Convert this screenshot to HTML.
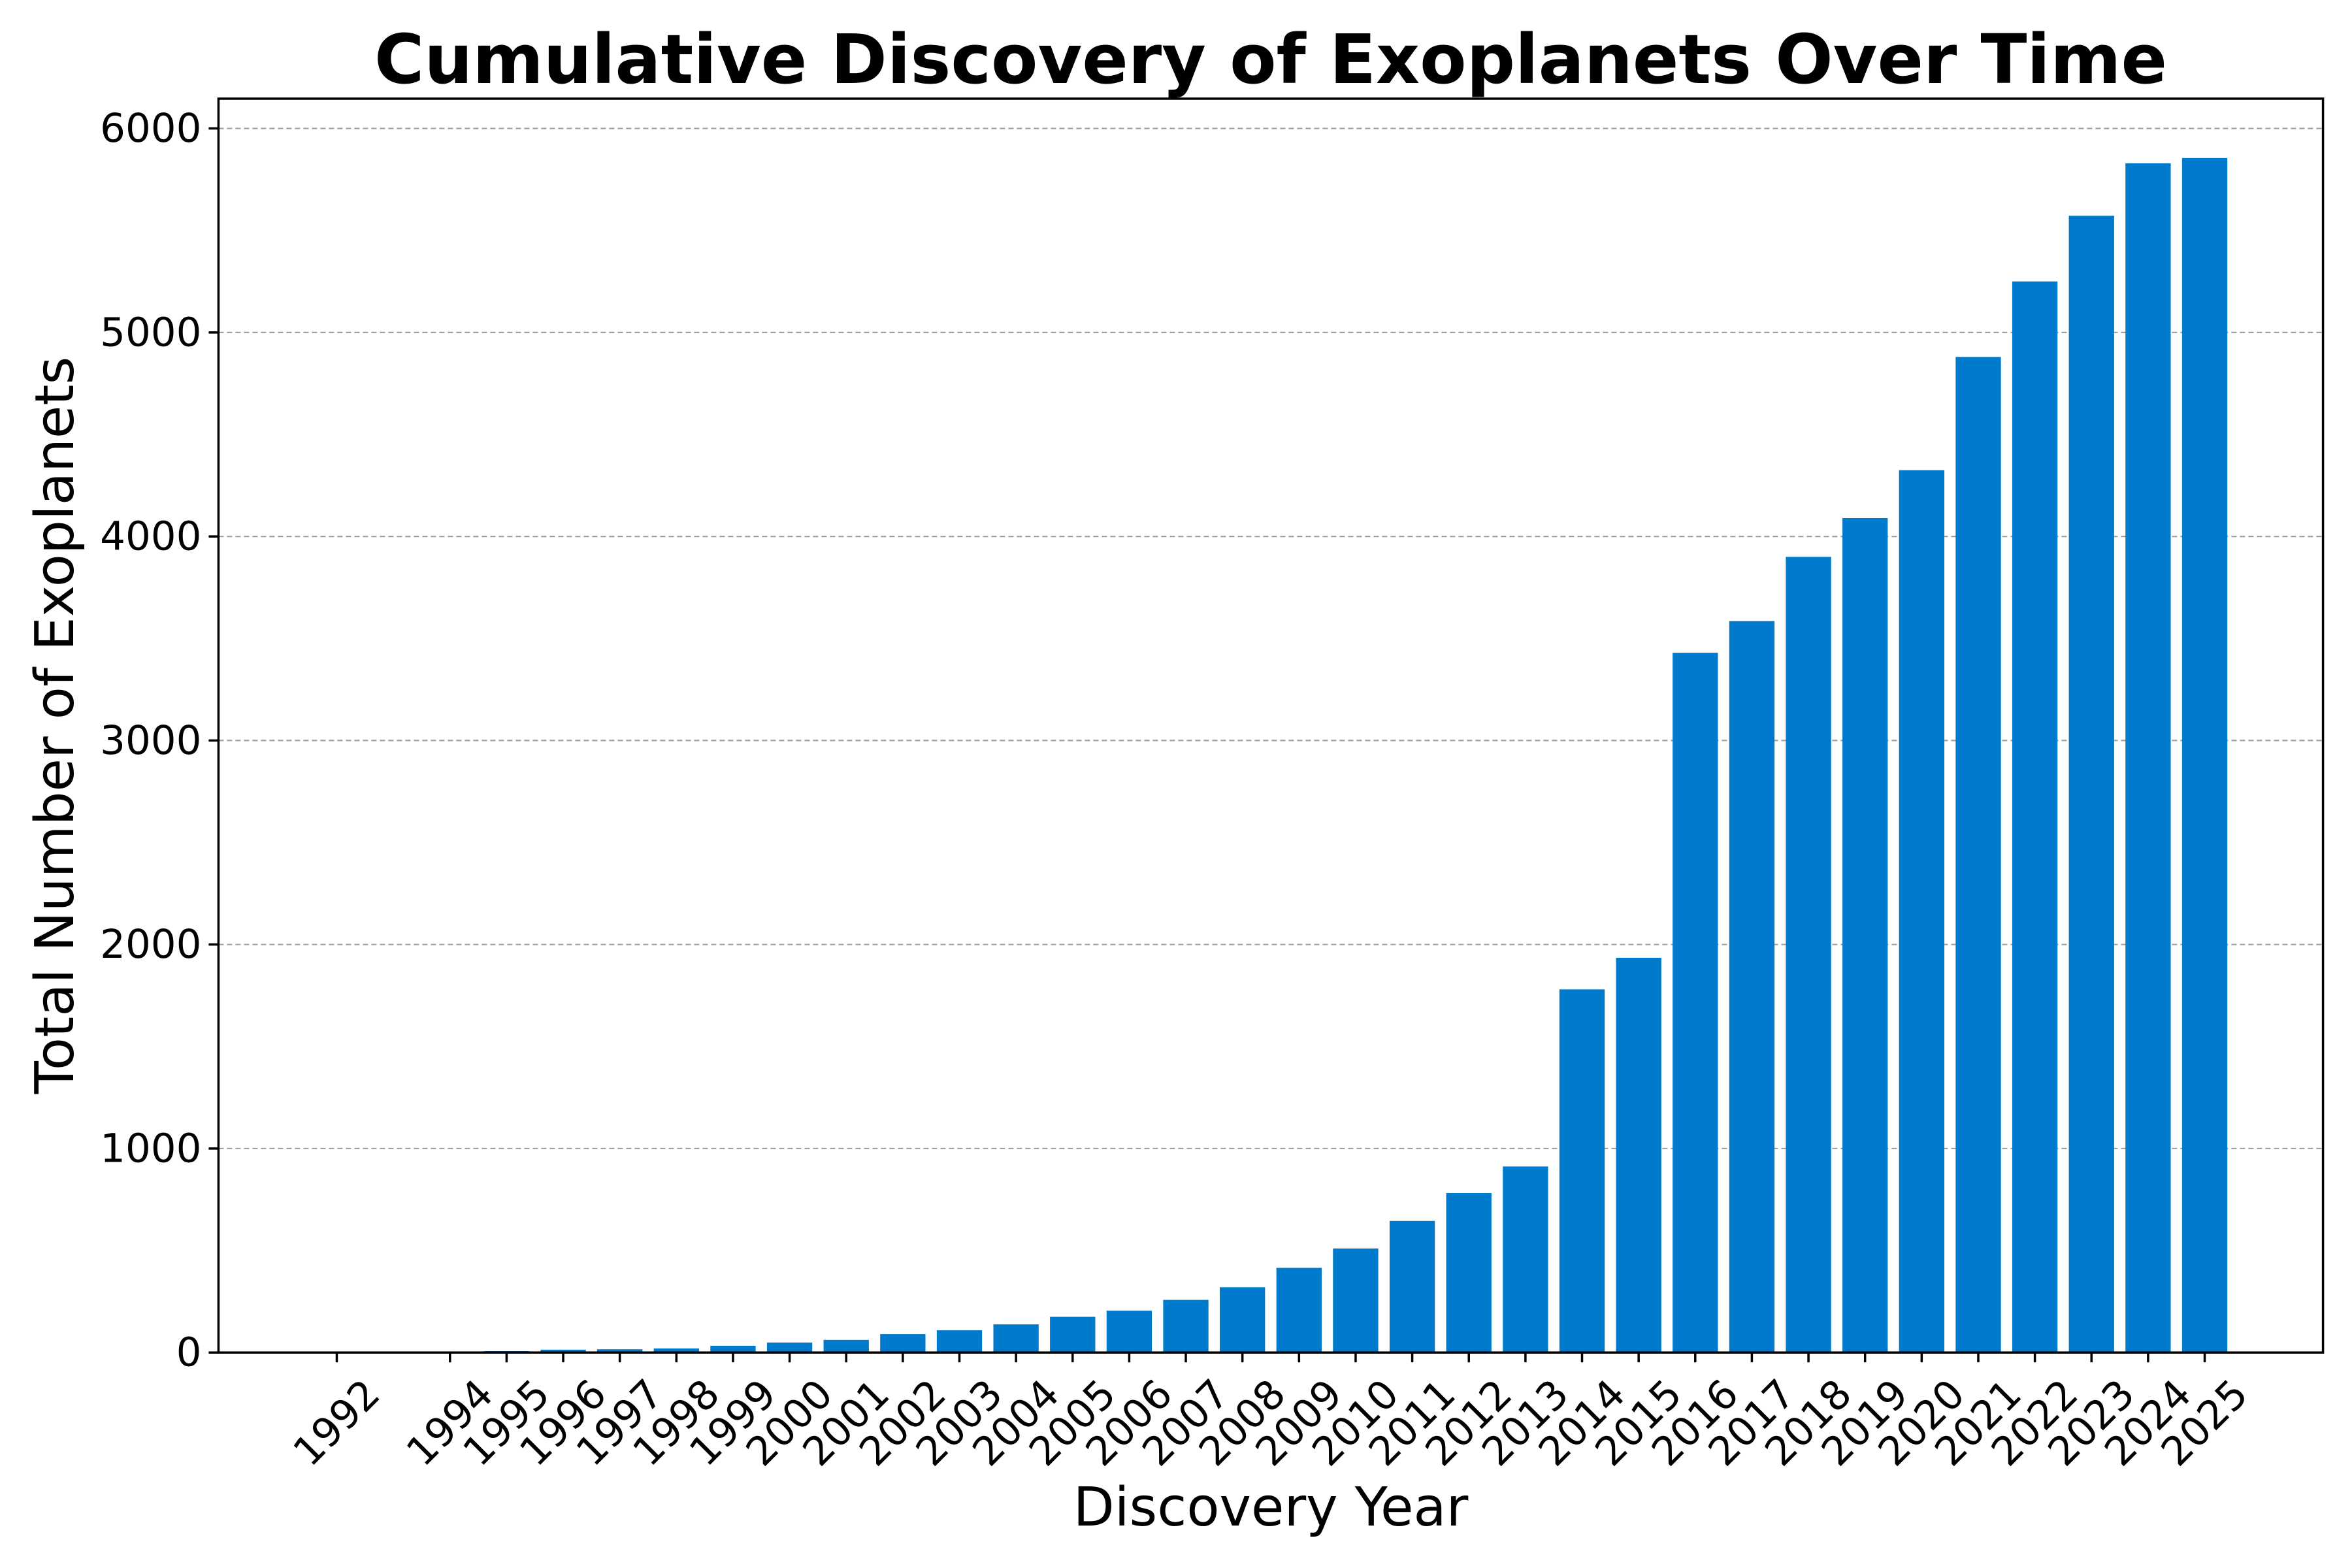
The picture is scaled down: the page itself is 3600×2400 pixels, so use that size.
<!DOCTYPE html>
<html><head><meta charset="utf-8"><style>
html,body{margin:0;padding:0;background:#fff;}
svg{display:block;font-family:"DejaVu Sans","Liberation Sans",sans-serif;}
</style></head><body>
<svg id="chart" width="3600" height="2400" viewBox="0 0 3600 2400" xmlns="http://www.w3.org/2000/svg">
<rect width="3600" height="2400" fill="#fff"/>
<g id="grid"></g>
<g id="bars"></g>
<g id="axes"></g>
<text x="1945" y="127" text-anchor="middle" font-size="104" font-weight="bold">Cumulative Discovery of Exoplanets Over Time</text>
<text x="1945" y="2335" text-anchor="middle" font-size="82">Discovery Year</text>
<text transform="translate(112,1110) rotate(-90)" text-anchor="middle" font-size="82">Total Number of Exoplanets</text>
</svg>
<script>
const years = [1992,1994,1995,1996,1997,1998,1999,2000,2001,2002,2003,2004,2005,2006,2007,2008,2009,2010,2011,2012,2013,2014,2015,2016,2017,2018,2019,2020,2021,2022,2023,2024,2025];
const counts = [2,3,7,14,16,20,33,49,62,90,109,138,175,205,258,320,415,510,645,782,912,1780,1935,3430,3585,3900,4090,4325,4880,5250,5572,5829,5855];
const yTicks = [0,1000,2000,3000,4000,5000,6000];

const NS = "http://www.w3.org/2000/svg";
const plotLeft = 334.4, plotRight = 3555.6, plotTop = 151, plotBottom = 2070.2;
const xMin = 1989.91, xMax = 2027.09, yMin = 0, yMax = 6146;
function xs(v){ return plotLeft + (v - xMin) / (xMax - xMin) * (plotRight - plotLeft); }
function ys(v){ return plotBottom - (v - yMin) / (yMax - yMin) * (plotBottom - plotTop); }
function mk(tag, attrs, parent){ const e = document.createElementNS(NS, tag); for (const k in attrs) e.setAttribute(k, attrs[k]); parent.appendChild(e); return e; }

const gridG = document.getElementById('grid');
const barsG = document.getElementById('bars');
const axesG = document.getElementById('axes');

yTicks.forEach(t => {
  const y = ys(t);
  if (t > 0) {
    const g = mk('line', {x1:plotLeft, x2:plotRight, y1:y, y2:y, stroke:'#a0a0a0', 'stroke-width':2.2, 'stroke-dasharray':'8,5'}, gridG);
    
    
  }
  const tk = mk('line', {x1:plotLeft-15, x2:plotLeft, y1:y, y2:y, stroke:'#000', 'stroke-width':3.5}, axesG);
  
  
  const lb = mk('text', {x:plotLeft-26, y:y, 'text-anchor':'end', 'dominant-baseline':'central', 'font-size':61}, axesG);
  lb.textContent = t;
  
  
});

const bw = 0.8;
years.forEach((yr, i) => {
  const x0 = xs(yr - bw/2), x1 = xs(yr + bw/2);
  const y = ys(counts[i]);
  const r = mk('rect', {x:x0, y:y, width:x1-x0, height:plotBottom-y, fill:'#007ACC'}, barsG);
  
  
  const xc = xs(yr);
  const tk = mk('line', {x1:xc, x2:xc, y1:plotBottom, y2:plotBottom+15, stroke:'#000', 'stroke-width':3.5}, axesG);
  
  
  const lb = mk('text', {transform:'translate(' + xc + ',2178) rotate(-45)', 'text-anchor':'middle', 'dominant-baseline':'central', 'font-size':61}, axesG);
  lb.textContent = yr;
  
  
});

const frame = mk('rect', {x:plotLeft, y:plotTop, width:plotRight-plotLeft, height:plotBottom-plotTop, fill:'none', stroke:'#000', 'stroke-width':3.5}, axesG);


</script>
</body></html>
